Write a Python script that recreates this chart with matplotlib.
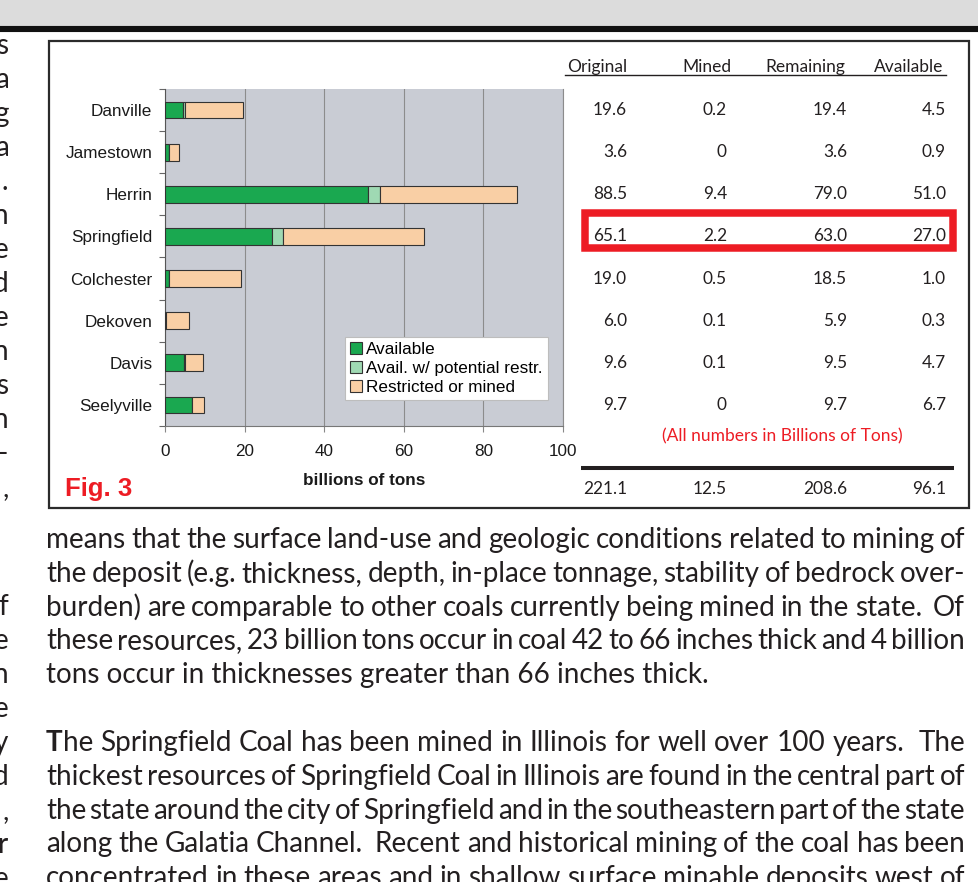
import matplotlib
matplotlib.use("Agg")
import matplotlib.pyplot as plt
from matplotlib.patches import Rectangle, Patch

W, H = 979, 882

# coal seams, top to bottom
seams = ["Danville", "Jamestown", "Herrin", "Springfield",
         "Colchester", "Dekoven", "Davis", "Seelyville"]
original = [19.6, 3.6, 88.5, 65.1, 19.0, 6.0, 9.6, 9.7]
mined = [0.2, 0, 9.4, 2.2, 0.5, 0.1, 0.1, 0]
remaining = [19.4, 3.6, 79.0, 63.0, 18.5, 5.9, 9.5, 9.7]
available = [4.5, 0.9, 51.0, 27.0, 1.0, 0.3, 4.7, 6.7]
# light green piece
potential = [0.4, 0.1, 3.1, 2.6, 0.0, 0.0, 0.3, 0.2]
totals = [221.1, 12.5, 208.6, 96.1]
columns = ["Original", "Mined", "Remaining", "Available"]
xticks = [0, 20, 40, 60, 80, 100]

para1 = [
    "means that the surface land-use and geologic conditions related to mining of",
    "the deposit (e.g. thickness, depth, in-place tonnage, stability of bedrock over-",
    "burden) are comparable to other coals currently being mined in the state.  Of",
    "these resources, 23 billion tons occur in coal 42 to 66 inches thick and 4 billion",
    "tons occur in thicknesses greater than 66 inches thick.",
]
para2 = [
    "*T*he Springfield Coal has been mined in Illinois for well over 100 years.  The",
    "thickest resources of Springfield Coal in Illinois are found in the central part of",
    "the state around the city of Springfield and in the southeastern part of the state",
    "along the Galatia Channel.  Recent and historical mining of the coal has been",
    "concentrated in these areas and in shallow surface minable deposits west of",
]
# right ends of the neighbouring column
margin_top = ["s", "a", "g", "a", ".", "n", "e", "d", "e", "n", "s", "n", "\u2013", ","]
margin_bottom = ["f", "e", "n", "e", "y", "d", ",", "r", "e"]

INK = "#231f20"
RED = "#ed1c24"
ARIAL = "Liberation Sans"
BODY = "Lato"

fig = plt.figure(figsize=(W / 100, H / 100), dpi=100)
page = fig.add_axes([0, 0, 1, 1])
page.set_xlim(0, W)
page.set_ylim(H, 0)
page.axis("off")
r = fig.canvas.get_renderer()

# page header band
page.add_patch(Rectangle((0, 0), W, 26, color="#dcdcdc", lw=0))
page.plot([0, W], [28.7, 28.7], color="#111111", lw=4.4, solid_capstyle="butt")
# figure frame
page.add_patch(Rectangle((49, 41), 920, 467, fill=False, ec="#2b2b2b", lw=1.6))

# ---- bar chart ----
ax = fig.add_axes([165 / W, 1 - 426 / H, 398 / W, 337 / H])
ax.set_facecolor("#c9ccd4")
pos = list(range(len(seams)))
restricted = [o - a - p for o, a, p in zip(original, available, potential)]
left2 = [a + p for a, p in zip(available, potential)]
kw = dict(height=0.4, edgecolor="#333333", linewidth=0.8, zorder=3)
ax.barh(pos, available, color="#1aa850", **kw)
ax.barh(pos, potential, left=available, color="#9fd9b3", **kw)
ax.barh(pos, restricted, left=left2, color="#f9cfa5", **kw)
ax.set_xlim(0, 100)
ax.set_ylim(len(seams) - 0.5, -0.5)
ax.set_xticks(xticks)
ax.set_yticks(pos)
ax.set_yticklabels(seams)
ax.set_yticks([i - 0.5 for i in range(len(seams) + 1)], minor=True)
ax.tick_params(axis="y", which="major", length=0, pad=9, labelsize=12.3, labelcolor="#1a1a1a")
ax.tick_params(axis="y", which="minor", length=4, color="#666666", width=0.8)
ax.tick_params(axis="x", length=4, color="#888888", width=0.8, pad=9, labelsize=12.3, labelcolor="#1a1a1a")
for lab in ax.get_xticklabels() + ax.get_yticklabels():
    lab.set_family(ARIAL)
ax.grid(axis="x", color="#8c8c8c", lw=0.8)
ax.set_axisbelow(True)
ax.spines["top"].set_visible(False)
ax.spines["right"].set_color("#8c8c8c")
ax.spines["right"].set_linewidth(0.8)
ax.spines["left"].set_color("#555555")
ax.spines["bottom"].set_color("#777777")
ax.set_xlabel("billions of tons", family=ARIAL, weight="bold", size=12.3, color="#1a1a1a", labelpad=10)

handles = [Patch(fc="#1aa850", ec="#333333", lw=0.8, label="Available"),
           Patch(fc="#9fd9b3", ec="#333333", lw=0.8, label="Avail. w/ potential restr."),
           Patch(fc="#f9cfa5", ec="#333333", lw=0.8, label="Restricted or mined")]
leg = ax.legend(handles=handles, loc="upper left",
                bbox_to_anchor=((345 - 165) / 398, (426 - 337) / 337),
                borderaxespad=0, fancybox=False, framealpha=1, edgecolor="#bdbdbd",
                prop={"family": ARIAL, "size": 12.3}, handlelength=0.7, handleheight=0.7,
                handletextpad=0.25, labelspacing=0.22, borderpad=0.3)
leg.get_frame().set_linewidth(0.8)

page.text(65, 489, "Fig. 3", family=ARIAL, weight="bold", size=18.5, color=RED, va="center")

# ---- table ----
col_left = [565, 682, 764, 872]
col_right = [627, 727, 847, 946]
for name, x0, x1 in zip(columns, col_left, col_right):
    page.text((x0 + max(x1, x0 + 50)) / 2 if name != "Original" else 597, 72, name,
              family=BODY, size=12.5, color=INK, ha="center", va="baseline")
page.plot([565, 946], [74.5, 74.5], color=INK, lw=1.0)


def fmt(v):
    return f"{v:.1f}" if v else "0"


row_y = [89 + 337 / 8 * (i + 0.5) for i in range(len(seams))]
for i, yy in enumerate(row_y):
    for x, col in zip(col_right, [original, mined, remaining, available]):
        page.text(x, yy, fmt(col[i]), family=BODY, size=12.4, color=INK, ha="right", va="center")
page.add_patch(Rectangle((585, 213), 368, 35.3, fill=False, ec=RED, lw=5.4))
page.text(782, 436, "(All numbers in Billions of Tons)", family=BODY, size=12.5, color=RED,
          ha="center", va="center")
page.plot([581, 954], [468, 468], color=INK, lw=2.9, solid_capstyle="butt")
for x, v in zip(col_right, totals):
    page.text(x, 489, fmt(v), family=BODY, size=12.4, color=INK, ha="right", va="center")


# ---- body text ----
def text_width(s, **kw):
    t = page.text(0, 0, s, **kw)
    w = t.get_window_extent(r).width
    t.remove()
    return w


probe = text_width(para1[-1], family=BODY, size=10)
BODY_SIZE = 10.3 * (690 - 46) / probe


def fragments(word):
    if word.startswith("*"):
        _, b, rest = word.split("*", 2)
        return [(b, "bold"), (rest, "normal")]
    return [(word, "normal")]


def body_line(y, line, x0=46, x1=965, justify=True):
    if not justify:
        page.text(x0, y, line, family=BODY, size=BODY_SIZE, color=INK, va="baseline")
        return
    words = [fragments(w) for w in line.split(" ")]
    widths = [sum(text_width(s, family=BODY, size=BODY_SIZE, weight=wt) for s, wt in w)
              for w in words]
    gap = (x1 - x0 - sum(widths)) / (len(words) - 1)
    x = x0
    for w, wd in zip(words, widths):
        for s, wt in w:
            if s:
                page.text(x, y, s, family=BODY, size=BODY_SIZE, weight=wt, color=INK, va="baseline")
                x += text_width(s, family=BODY, size=BODY_SIZE, weight=wt)
        x += gap


lead = 33.8
for i, line in enumerate(para1):
    body_line(548 + lead * i, line, justify=(i < len(para1) - 1))
for i, line in enumerate(para2):
    body_line(751 + lead * i, line)

for i, ch in enumerate(margin_top):
    page.text(8.5, 54 + 34 * i, ch, family=BODY, size=BODY_SIZE, color=INK, ha="right", va="baseline")
for i, ch in enumerate(margin_bottom):
    page.text(8.5, 615 + 34 * i, ch, family=BODY, size=BODY_SIZE, color=INK, ha="right", va="baseline")

fig.savefig("out.png", dpi=100)
